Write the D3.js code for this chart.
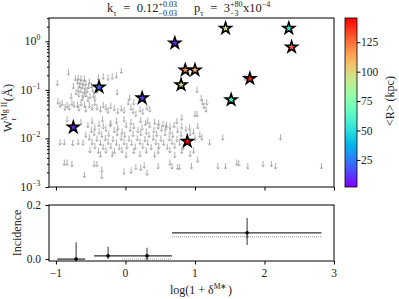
<!DOCTYPE html>
<html>
<head>
<meta charset="utf-8">
<script src="https://cdn.jsdelivr.net/npm/d3@7"></script>
<style>
body { margin: 0; background: #fff; }
text { font-family: "Liberation Serif", serif; fill: #222; }
</style>
</head>
<body>
<div id="chart"></div>
<script>
// detections: x = log(1+delta), W = equivalent width (A), R = mean distance (kpc)
var detX = [-0.75, -0.38, 0.24, 0.71, 0.86, 1.00, 0.80, 1.44, 2.35, 2.39, 1.79, 1.52, 0.89];
var detW = [0.017, 0.114, 0.068, 0.92, 0.256, 0.256, 0.127, 1.85, 1.85, 0.76, 0.17, 0.0625, 0.0087];
var detR = [8, 22, 12, 8, 120, 110, 97, 97, 55, 130, 140, 60, 145];

// upper limits [x, W]
var limitsCluster = [[-0.82,0.23],[-0.98,0.14],[-0.06,0.25],[-0.39,0.18],[-0.32,0.19],[-0.25,0.18],[-0.19,0.19],[-0.13,0.2],
  [-0.72,0.175],[-0.68,0.18],[-0.64,0.175],[-0.59,0.17],[-0.69,0.15],[-0.65,0.145],[-0.61,0.14],[-0.57,0.14],[-0.52,0.15],
  [-0.66,0.125],[-0.62,0.12],[-0.58,0.114],[-0.53,0.12],[-0.49,0.125],[-0.68,0.104],[-0.64,0.1],[-0.59,0.094],[-0.55,0.1],
  [-0.71,0.09],[-0.67,0.082],[-0.61,0.078],[-0.57,0.082],[-0.51,0.075],[-0.46,0.078],[-0.62,0.068],[-0.54,0.065],[-0.44,0.068],
  [-0.41,0.098],[-0.12,0.09],[-0.47,0.104],[-0.75,0.12],[-0.78,0.075]];
var limitsBand = [[-0.97,0.058],[-0.94,0.05],[-0.91,0.054],[-0.87,0.044],[-0.84,0.049],[-0.81,0.044],[-0.77,0.054],[-0.74,0.05],
  [-0.69,0.049],[-0.67,0.042],[-0.64,0.054],[-0.59,0.05],[-0.57,0.04],[-0.52,0.049],[-0.48,0.044],[-0.44,0.054],[-0.41,0.044],
  [-0.36,0.04],[-0.32,0.049],[-0.28,0.044],[-0.25,0.038],[-0.21,0.047],[-0.16,0.042],[-0.11,0.037],[-0.06,0.042],[-0.02,0.038],
  [0.04,0.056],[0.08,0.044],[0.11,0.037],[0.15,0.032],[0.21,0.04],[0.06,0.07],[0.12,0.056],[0.25,0.036],[0.31,0.044],[0.35,0.04],
  [-0.84,0.025],[-0.64,0.022],[-0.48,0.023],[-0.38,0.02],[-0.33,0.025],[-0.21,0.021],[-0.13,0.023],[-0.02,0.025],[0.08,0.022],
  [0.22,0.024],[0.29,0.021],[0.32,0.023],[0.42,0.022],[0.48,0.021],[0.54,0.02],[0.59,0.019],[0.64,0.018],[0.74,0.023],[0.81,0.027],
  [1.03,0.1],[1.09,0.068],[1.11,0.056],[1.17,0.056],[1.13,0.047],[1.16,0.04],[1.0,0.032],[1.03,0.032],[1.72,0.18]];
var limitsMain = [[-0.54,0.019],[-0.44,0.017],[-0.32,0.018],[-0.22,0.02],[-0.11,0.017],[0.01,0.019],[0.12,0.018],[0.24,0.017],
  [0.35,0.019],[0.47,0.018],[0.58,0.017],[0.70,0.019],[0.81,0.018],[0.92,0.017],[1.04,0.018],
  [-0.49,0.015],[-0.38,0.014],[-0.28,0.016],[-0.16,0.015],[-0.05,0.014],[0.07,0.016],[0.18,0.015],[0.30,0.014],[0.41,0.015],
  [0.52,0.016],[0.64,0.014],[0.75,0.015],[0.87,0.016],[0.98,0.014],
  [-0.57,0.012],[-0.45,0.013],[-0.34,0.012],[-0.24,0.0125],[-0.12,0.013],[-0.01,0.012],[0.11,0.0125],[0.22,0.013],[0.34,0.012],
  [0.45,0.0125],[0.57,0.013],[0.68,0.012],[0.80,0.0125],[0.93,0.013],[1.07,0.012],
  [-0.52,0.0105],[-0.41,0.01],[-0.29,0.0102],[-0.18,0.0098],[-0.06,0.0105],[0.05,0.01],[0.17,0.0102],[0.28,0.0098],[0.40,0.0105],
  [0.51,0.01],[0.63,0.0102],[0.74,0.0098],[1.0,0.0101],[1.10,0.0105],
  [-0.48,0.0085],[-0.36,0.0082],[-0.25,0.0086],[-0.13,0.0083],[-0.02,0.0085],[0.09,0.0082],[0.21,0.0086],[0.32,0.0083],
  [0.44,0.0085],[0.55,0.0082],[0.67,0.0086],[0.78,0.0083],[1.21,0.0084],[1.40,0.0106],
  [-0.44,0.007],[-0.32,0.0068],[-0.21,0.0071],[-0.09,0.0067],[0.02,0.007],[0.14,0.0068],[0.25,0.0071],[0.37,0.0067],
  [0.48,0.007],[0.60,0.0068],[0.71,0.0071],[0.83,0.0067],
  [-0.51,0.0058],[-0.39,0.0056],[-0.28,0.0057],[-0.16,0.0055],[-0.05,0.0058],[0.12,0.0056],[0.30,0.0057],[0.47,0.0055],
  [0.64,0.0058],[0.81,0.0056],[0.98,0.0057],
  [-0.36,0.0047],[-0.19,0.0048],[0.01,0.0046],[0.21,0.0048],[0.42,0.0047],[0.71,0.0046],[0.93,0.0048],
  [-0.94,0.0084],[-0.88,0.0084],[-0.76,0.0081],[-0.68,0.0085],[-0.61,0.0083]];
var limitsLow = [[-0.88,0.0032],[-0.84,0.0032],[-0.77,0.003],[-0.59,0.0018],[-0.45,0.003],[-0.41,0.003],[-0.34,0.0023],
  [-0.34,0.0017],[-0.02,0.0021],[0.08,0.0022],[0.15,0.0026],[0.22,0.0025],[0.27,0.0028],[0.31,0.002],[0.47,0.0027],
  [0.64,0.0032],[0.67,0.0027],[0.75,0.0026],[0.78,0.0026],[0.95,0.0027],[1.04,0.0037],[1.33,0.0027],[1.44,0.0027],
  [1.60,0.0032],[1.63,0.0031],[1.76,0.0027],[1.98,0.003],[2.10,0.003],[2.16,0.0027],[2.82,0.0027],[2.23,0.0106]];

// incidence bins
var binLo = [-0.98, -0.45, -0.05, 0.67];
var binHi = [-0.58, -0.05, 0.67, 2.82];
var binMid = [-0.71, -0.25, 0.31, 1.75];
var incidence = [0.0, 0.012, 0.012, 0.097];
var incErrLo = [0.0, 0.0, 0.0, 0.052];
var incErrHi = [0.062, 0.046, 0.042, 0.152];
var incModel = [0.0, 0.012, 0.0, 0.083];

var xTicks = [-1, 0, 1, 2, 3];
var wTicks = [1e-3, 1e-2, 1e-1, 1];
var incTicks = [0.0, 0.2];
var rTicks = [25, 50, 75, 100, 125];
var rRange = [2, 145.6];

var width = 399, height = 299;
var svg = d3.select("#chart").append("svg").attr("width", width).attr("height", height);

var x = d3.scaleLinear().domain([-1.1, 3]).range([49, 334]);
var y = d3.scaleLog().domain([1e-3, 3.02]).range([187, 18]);
var yInc = d3.scaleLinear().domain([-0.007, 0.2]).range([261, 205]);
var yBar = d3.scaleLinear().domain(rRange).range([187, 18]);

// matplotlib "rainbow"
function rainbow(t) {
  t = Math.max(0, Math.min(1, t));
  var r = Math.min(1, Math.abs(2 * t - 0.5)), g = Math.sin(Math.PI * t), b = Math.cos(Math.PI * t / 2);
  return d3.rgb(r * 255, g * 255, b * 255).toString();
}
function color(v) { return rainbow((v - rRange[0]) / (rRange[1] - rRange[0])); }

// math-like text: pieces are strings or {sup, sub}
function richText(parent, px, py, pieces, size, anchor) {
  var g = parent.append("g");
  var cur = 0, small = size * 0.64;
  pieces.forEach(function(p) {
    if (typeof p === "string") {
      var t = g.append("text").attr("x", cur).attr("y", 0).style("font-size", size + "px").text(p);
      cur += t.node().getComputedTextLength();
    } else {
      var w = 0;
      if (p.sup) {
        var s = g.append("text").attr("x", cur).attr("y", -size * 0.42).style("font-size", small + "px").text(p.sup);
        w = Math.max(w, s.node().getComputedTextLength());
      }
      if (p.sub) {
        var b = g.append("text").attr("x", cur).attr("y", size * 0.32).style("font-size", small + "px").text(p.sub);
        w = Math.max(w, b.node().getComputedTextLength());
      }
      cur += w + size * 0.05;
    }
  });
  var shift = anchor === "middle" ? -cur / 2 : (anchor === "end" ? -cur : 0);
  g.attr("transform", "translate(" + (px + shift) + "," + py + ")");
  return g;
}

// ---- main panel ----
var main = svg.append("g");

main.append("g")
  .attr("transform", "translate(0,187)")
  .call(d3.axisBottom(x).tickValues(xTicks).tickSize(3.5).tickFormat(""))
  .call(function(g) { g.select(".domain").remove(); });

var minors = [];
[-3, -2, -1, 0].forEach(function(e) {
  for (var k = 2; k <= 9; k++) { var v = k * Math.pow(10, e); if (v <= 3.02) minors.push(v); }
});
main.append("g")
  .attr("transform", "translate(49,0)")
  .call(d3.axisLeft(y).tickValues(minors).tickSize(2).tickFormat(""))
  .call(function(g) { g.select(".domain").remove(); });
main.append("g")
  .attr("transform", "translate(49,0)")
  .call(d3.axisLeft(y).tickValues(wTicks).tickSize(3.5).tickFormat(""))
  .call(function(g) { g.select(".domain").remove(); });
wTicks.forEach(function(v) {
  var e = Math.round(Math.log10(v));
  richText(main, 41, y(v) + 4, ["10", {sup: e === 0 ? "0" : "\u2212" + (-e)}], 12, "end");
});

function drawLimits(arr) {
  main.selectAll(null)
    .data(arr)
    .enter()
    .append("path")
    .attr("transform", function(d) { return "translate(" + x(d[0]) + "," + y(d[1]) + ")"; })
    .attr("d", "M0,-3V3M-1.4,1.3L0,3L1.4,1.3")
    .attr("fill", "none")
    .attr("stroke", "#999")
    .attr("stroke-width", 0.8);
}
drawLimits(limitsCluster);
drawLimits(limitsBand);
drawLimits(limitsMain);
drawLimits(limitsLow);

main.selectAll(null)
  .data(detX)
  .enter()
  .append("path")
  .attr("transform", function(d, i) { return "translate(" + x(d) + "," + y(detW[i]) + ")"; })
  .attr("d", d3.symbol(d3.symbolStar, 40))
  .attr("fill", function(d, i) { return color(detR[i]); })
  .attr("stroke", "#000")
  .attr("stroke-width", 1.6);

main.append("rect").attr("x", 49).attr("y", 18).attr("width", 285).attr("height", 169)
  .attr("fill", "none").attr("stroke", "#000").attr("stroke-width", 1);

// y label
var yl = main.append("g").attr("transform", "translate(12,108) rotate(-90)");
richText(yl, 0, 0, ["W", {sup: "Mg II", sub: "r"}, " (\u00c5)"], 12.5, "middle");

// title
richText(svg, 107, 12, ["k", {sub: "\u03c4"}, "\u2002=\u20020.12", {sup: "+0.03", sub: "\u22120.03"}], 12.5, "start");
richText(svg, 194, 12, ["p", {sub: "\u03c4"}, "\u2002=\u20023", {sup: "+80", sub: "\u22123"}, " x10", {sup: "\u22124"}], 12.5, "start");

// ---- colorbar ----
var grad = svg.append("defs").append("linearGradient").attr("id", "rb")
  .attr("x1", 0).attr("y1", 1).attr("x2", 0).attr("y2", 0);
d3.range(0, 1.0001, 0.05).forEach(function(t) {
  grad.append("stop").attr("offset", t).attr("stop-color", rainbow(t));
});
svg.append("rect").attr("x", 345).attr("y", 18).attr("width", 12).attr("height", 169)
  .attr("fill", "url(#rb)").attr("stroke", "#000").attr("stroke-width", 0.8);
svg.append("g")
  .attr("transform", "translate(357,0)")
  .call(d3.axisRight(yBar).tickValues(rTicks).tickSize(3.5).tickFormat(""))
  .call(function(g) { g.select(".domain").remove(); });
rTicks.forEach(function(v) {
  svg.append("text").attr("x", 361).attr("y", yBar(v) + 4).style("font-size", "11.5px").text(v);
});
svg.append("text")
  .attr("transform", "translate(394,101) rotate(-90)")
  .attr("text-anchor", "middle")
  .style("font-size", "12px")
  .text("<R> (kpc)");

// ---- incidence panel ----
var inc = svg.append("g");
inc.append("g")
  .attr("transform", "translate(0,261)")
  .call(d3.axisBottom(x).tickValues(xTicks).tickSize(3.5).tickFormat(""))
  .call(function(g) { g.select(".domain").remove(); });
xTicks.forEach(function(v) {
  inc.append("text").attr("x", x(v)).attr("y", 277).attr("text-anchor", "middle")
    .style("font-size", "11.5px").text(v < 0 ? "\u2212" + (-v) : v);
});
inc.append("g")
  .attr("transform", "translate(49,0)")
  .call(d3.axisLeft(yInc).tickValues(incTicks).tickSize(3.5).tickFormat(""))
  .call(function(g) { g.select(".domain").remove(); });
incTicks.forEach(function(v) {
  inc.append("text").attr("x", 41).attr("y", yInc(v) + 4).attr("text-anchor", "end")
    .style("font-size", "11.5px").text(v.toFixed(1));
});

// model (dotted gray)
inc.selectAll(null).data(incModel).enter().append("line")
  .attr("x1", function(d, i) { return x(binLo[i]); })
  .attr("x2", function(d, i) { return x(binHi[i]); })
  .attr("y1", function(d) { return yInc(d); })
  .attr("y2", function(d) { return yInc(d); })
  .attr("stroke", "#999").attr("stroke-width", 1).attr("stroke-dasharray", "1,1");
inc.selectAll(null).data(incModel).enter().append("circle")
  .attr("cx", function(d, i) { return x(binMid[i]); })
  .attr("cy", function(d) { return yInc(d); })
  .attr("r", 1.6).attr("fill", "#999");

// measured incidence
inc.selectAll(null).data(incidence).enter().append("line")
  .attr("x1", function(d, i) { return x(binMid[i]); })
  .attr("x2", function(d, i) { return x(binMid[i]); })
  .attr("y1", function(d, i) { return yInc(incErrLo[i]); })
  .attr("y2", function(d, i) { return yInc(incErrHi[i]); })
  .attr("stroke", "#333").attr("stroke-width", 1);
inc.selectAll(null).data(incidence).enter().append("line")
  .attr("x1", function(d, i) { return x(binLo[i]); })
  .attr("x2", function(d, i) { return x(binHi[i]); })
  .attr("y1", function(d) { return yInc(d); })
  .attr("y2", function(d) { return yInc(d); })
  .attr("stroke", "#333").attr("stroke-width", 1.2);
inc.selectAll(null).data(incidence).enter().append("circle")
  .attr("cx", function(d, i) { return x(binMid[i]); })
  .attr("cy", function(d) { return yInc(d); })
  .attr("r", 1.8).attr("fill", "#000");

inc.append("rect").attr("x", 49).attr("y", 205).attr("width", 285).attr("height", 56)
  .attr("fill", "none").attr("stroke", "#000").attr("stroke-width", 1);

svg.append("text")
  .attr("transform", "translate(21,233) rotate(-90)")
  .attr("text-anchor", "middle")
  .style("font-size", "12px")
  .text("Incidence");

richText(svg, 201, 294, ["log(1 + \u03b4", {sup: "M\u2217"}, ")"], 12, "middle");
</script>
</body>
</html>
